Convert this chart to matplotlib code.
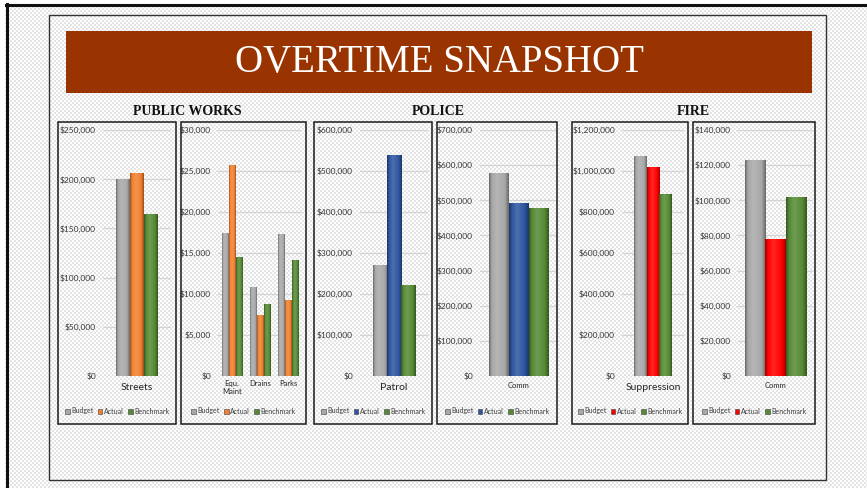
import numpy as np
import matplotlib
matplotlib.use('Agg')
import matplotlib.pyplot as plt
from matplotlib.patches import Rectangle, Patch
from matplotlib.lines import Line2D
from matplotlib.colors import LinearSegmentedColormap, to_rgb
from matplotlib.ticker import FuncFormatter, MultipleLocator

# ---------------- data ----------------
series = ['Budget', 'Actual', 'Benchmark']
title = 'OVERTIME SNAPSHOT'
groups = ['PUBLIC WORKS', 'POLICE', 'FIRE']

pw_streets_cats = ['Streets']
pw_streets_budget = [200000]
pw_streets_actual = [206000]
pw_streets_bench = [165000]

pw_other_cats = ['Equ.\nMaint', 'Drains', 'Parks']
pw_other_budget = [17500, 10800, 17300]
pw_other_actual = [25700, 7400, 9300]
pw_other_bench = [14500, 8800, 14200]

police_patrol_cats = ['Patrol']
police_patrol_budget = [270000]
police_patrol_actual = [540000]
police_patrol_bench = [223000]

police_comm_cats = ['Comm']
police_comm_budget = [578000]
police_comm_actual = [492000]
police_comm_bench = [478000]

fire_supp_cats = ['Suppression']
fire_supp_budget = [1075000]
fire_supp_actual = [1020000]
fire_supp_bench = [890000]

fire_comm_cats = ['Comm']
fire_comm_budget = [123000]
fire_comm_actual = [78000]
fire_comm_bench = [102000]

# ---------------- styling ----------------
W, H = 867, 488
FONT = 'Lato'
c_budget = '#A8A8A8'
c_bench = '#558A34'
c_actual_pw = '#F28030'
c_actual_police = '#2E55A0'
c_actual_fire = '#FF0000'

fig = plt.figure(figsize=(W / 100, H / 100), dpi=100)
fig.patch.set_facecolor('white')

# checkered slide background
yy, xx = np.mgrid[0:H, 0:W]
chk = ((yy // 2 + xx // 2) % 2).astype(float)
bg = np.where(chk == 1, 228, 255).astype(np.uint8)
bg[:, :5] = 255
bg[:4, :] = 255
bg_rgb = np.dstack([bg, bg, bg])
fig.figimage(bg_rgb, xo=0, yo=0, origin='upper', zorder=-10)


def fx(px):
    return px / W


def fy(py):
    return 1 - py / H


# outer frame lines (left and top)
fig.add_artist(Line2D([fx(6.5), fx(6.5)], [fy(4), 0], transform=fig.transFigure,
                      color='#111111', lw=2.2))
fig.add_artist(Line2D([fx(5.5), 1], [fy(5), fy(5)], transform=fig.transFigure,
                      color='#111111', lw=2.2))
# inner border
fig.add_artist(Rectangle((fx(49), fy(480)), fx(826) - fx(49), fy(15) - fy(480),
                         transform=fig.transFigure, fill=False, ec='#333333', lw=1.0))
# title banner
fig.add_artist(Rectangle((fx(66), fy(93)), fx(812) - fx(66), fy(31) - fy(93),
                         transform=fig.transFigure, fc='#993300', ec='none'))
fig.text(fx(439), fy(72), title, ha='center', va='baseline', color='white',
         fontsize=28, family='Liberation Serif')

for g, cx in zip(groups, [187, 438, 693]):
    fig.text(fx(cx), fy(115), g, ha='center', va='baseline', color='#111111',
             fontsize=10, fontweight='bold', family='Liberation Serif')


def shade_bars(ax, bars, color):
    base = np.array(to_rgb(color))
    dark = base * 0.62
    light = np.clip(base + (1 - base) * 0.15, 0, 1)
    cm = LinearSegmentedColormap.from_list(
        'g', [(0, dark), (0.14, base), (0.4, light), (0.8, base), (1, dark)])
    grad = np.linspace(0, 1, 64).reshape(1, -1)
    for b in bars:
        x0 = b.get_x()
        w = b.get_width()
        h = b.get_height()
        im = ax.imshow(grad, extent=[x0, x0 + w, 0, h], aspect='auto', cmap=cm,
                       origin='lower', zorder=3, interpolation='bilinear')
        im.set_clip_path(b)


panels = [
    dict(cats=pw_streets_cats, vals=[pw_streets_budget, pw_streets_actual, pw_streets_bench],
         actual=c_actual_pw, ymax=250000, step=50000, ax=(103, 171), box=(58, 176),
         bw=0.205, cfs=7.5, pad=5),
    dict(cats=pw_other_cats, vals=[pw_other_budget, pw_other_actual, pw_other_bench],
         actual=c_actual_pw, ymax=30000, step=5000, ax=(218, 302), box=(181, 306),
         bw=0.25, cfs=5.5, pad=3),
    dict(cats=police_patrol_cats, vals=[police_patrol_budget, police_patrol_actual, police_patrol_bench],
         actual=c_actual_police, ymax=600000, step=100000, ax=(360, 428), box=(314, 432),
         bw=0.21, cfs=7.5, pad=5),
    dict(cats=police_comm_cats, vals=[police_comm_budget, police_comm_actual, police_comm_bench],
         actual=c_actual_police, ymax=700000, step=100000, ax=(480, 558), box=(437, 557),
         bw=0.256, cfs=5.5, pad=4),
    dict(cats=fire_supp_cats, vals=[fire_supp_budget, fire_supp_actual, fire_supp_bench],
         actual=c_actual_fire, ymax=1200000, step=200000, ax=(622, 684), box=(572, 688),
         bw=0.205, cfs=7.5, pad=5),
    dict(cats=fire_comm_cats, vals=[fire_comm_budget, fire_comm_actual, fire_comm_bench],
         actual=c_actual_fire, ymax=140000, step=20000, ax=(738, 813), box=(693, 815),
         bw=0.27, cfs=5.5, pad=4),
]

Y0, Y1 = 376, 130  # pixel y of $0 and top tick
for p in panels:
    ax0, ax1 = p['ax']
    ax = fig.add_axes([fx(ax0), fy(Y0), fx(ax1) - fx(ax0), fy(Y1) - fy(Y0)])
    ax.set_facecolor('none')
    n = len(p['cats'])
    x = np.arange(n)
    colors = [c_budget, p['actual'], c_bench]
    for i, (vals, col) in enumerate(zip(p['vals'], colors)):
        bars = ax.bar(x + (i - 1) * p['bw'], vals, width=p['bw'], color=col,
                      edgecolor='none', zorder=2)
        shade_bars(ax, bars, col)
    ax.set_xlim(-0.5, n - 0.5)
    ax.set_ylim(0, p['ymax'])
    ax.yaxis.set_major_locator(MultipleLocator(p['step']))
    ax.yaxis.set_major_formatter(FuncFormatter(lambda v, pos: '${:,.0f}'.format(v)))
    ax.yaxis.grid(True, color='#D4D4D4', lw=0.9, zorder=0)
    ax.set_axisbelow(True)
    for s in ax.spines.values():
        s.set_visible(False)
    ax.tick_params(axis='y', length=0, pad=5, labelsize=6, labelcolor='#383838')
    for lab in ax.get_yticklabels():
        lab.set_family(FONT)
    ax.set_xticks(x)
    ax.set_xticklabels(p['cats'], fontsize=p['cfs'], family=FONT, color='#262626',
                       linespacing=1.1)
    ax.tick_params(axis='x', length=0, pad=p['pad'])

    bx0, bx1 = p['box']
    fig.add_artist(Rectangle((fx(bx0), fy(424)), fx(bx1) - fx(bx0), fy(122) - fy(424),
                             transform=fig.transFigure, fill=False, ec='#1a1a1a', lw=1.1))
    handles = [Patch(fc=c, ec='#404040', lw=0.4) for c in colors]
    leg = fig.legend(handles, series, loc='center', bbox_to_anchor=(fx((bx0 + bx1) / 2), fy(411)),
                     ncol=3, frameon=False, handlelength=0.7, handleheight=0.7,
                     handletextpad=0.2, columnspacing=0.6, borderpad=0,
                     prop={'family': FONT, 'size': 5})
    for t in leg.get_texts():
        t.set_color('#404040')

fig.savefig('out.png', dpi=100)
